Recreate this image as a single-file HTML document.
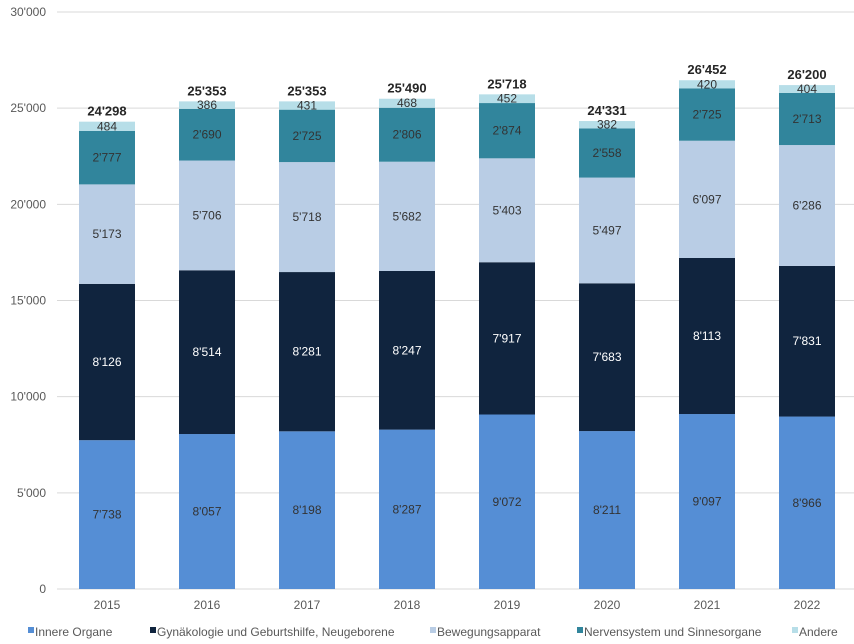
<!DOCTYPE html>
<html><head><meta charset="utf-8">
<style>
html,body{margin:0;padding:0;background:#fff;}
svg{display:block;font-family:"Liberation Sans Narrow","Liberation Sans",sans-serif;}
</style></head>
<body>
<svg id="chart" width="854" height="644" viewBox="0 0 854 644"></svg>
<script>
const categories=["2015","2016","2017","2018","2019","2020","2021","2022"];
const seriesNames=["Innere Organe","Gynäkologie und Geburtshilfe, Neugeborene","Bewegungsapparat","Nervensystem und Sinnesorgane","Andere"];
const innereOrgane=[7738,8057,8198,8287,9072,8211,9097,8966];
const gynaekologie=[8126,8514,8281,8247,7917,7683,8113,7831];
const bewegungsapparat=[5173,5706,5718,5682,5403,5497,6097,6286];
const nervensystem=[2777,2690,2725,2806,2874,2558,2725,2713];
const andere=[484,386,431,468,452,382,420,404];
const totalLabels=["24'298","25'353","25'353","25'490","25'718","24'331","26'452","26'200"];
const yTicks=[0,5000,10000,15000,20000,25000,30000];

const colors=["#558ED5","#10243E","#B9CDE5","#31859C","#B7DEE8"];
const labelColors=["#333","#fff","#333","#333","#333"];
const series=[innereOrgane,gynaekologie,bewegungsapparat,nervensystem,andere];
const NS="http://www.w3.org/2000/svg";
const svg=document.getElementById("chart");
const y0=589,yTop=12,yMax=30000;
const y=v=>y0-(v/yMax)*(y0-yTop);
const x=i=>107+i*100;
const bw=56;
const fmt=v=>{const s=String(v);return s.length>3?s.slice(0,-3)+"'"+s.slice(-3):s;};
function mk(tag,attrs,parent){const e=document.createElementNS(NS,tag);for(const k in attrs)e.setAttribute(k,attrs[k]);(parent||svg).appendChild(e);return e;}

yTicks.forEach(t=>{
  const g=mk("line",{x1:57,x2:854,y1:y(t),y2:y(t),stroke:"#d9d9d9","stroke-width":1});
  
  
  const tx=mk("text",{x:46,y:y(t)+4,"text-anchor":"end","font-size":12,fill:"#595959"});
  tx.textContent=fmt(t);
  
  
});

categories.forEach((c,i)=>{
  let acc=0;
  series.forEach((s,k)=>{
    const v=s[i];
    const r=mk("rect",{x:x(i)-bw/2,y:y(acc+v),width:bw,height:y(acc)-y(acc+v),fill:colors[k]});
    
    
    const lt=mk("text",{x:x(i),y:(y(acc)+y(acc+v))/2+4,"text-anchor":"middle","font-size":12,fill:labelColors[k]});
    lt.textContent=fmt(v);
    
    
    acc+=v;
  });
  const tt=mk("text",{x:x(i),y:y(acc)-6,"text-anchor":"middle","font-size":13,"font-weight":"bold",fill:"#262626"});
  tt.textContent=totalLabels[i];
  
  
  const xl=mk("text",{x:x(i),y:609,"text-anchor":"middle","font-size":12,fill:"#595959"});
  xl.textContent=c;
  
  
});

const legendX=[28,150,430,577,792];
seriesNames.forEach((n,k)=>{
  const g=mk("g",{});
  
  
  mk("rect",{x:legendX[k],y:627,width:6,height:6,fill:colors[k]},g);
  const t=mk("text",{x:legendX[k]+7,y:636,"font-size":12,fill:"#595959"},g);
  t.textContent=n;
});
</script>
</body></html>
